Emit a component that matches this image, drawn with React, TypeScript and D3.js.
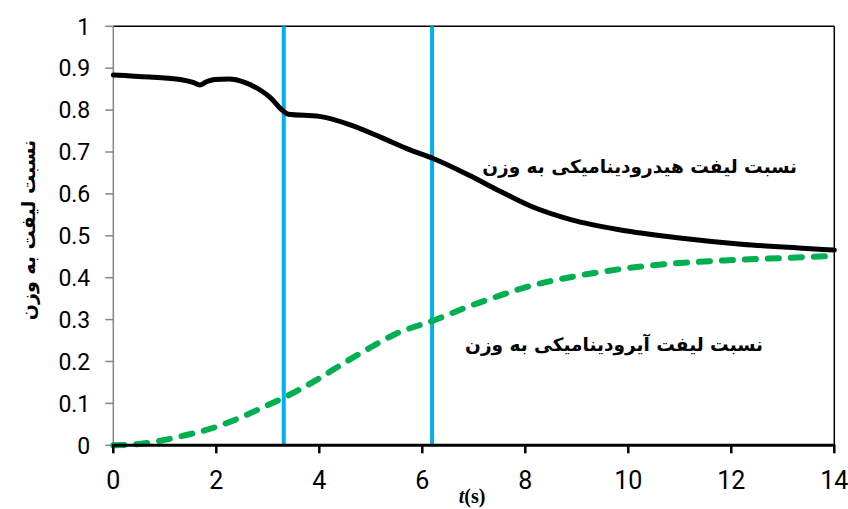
import React from "react";
import * as d3 from "d3";

const xTicks = [0, 2, 4, 6, 8, 10, 12, 14];
const yTicks = [0, 0.1, 0.2, 0.3, 0.4, 0.5, 0.6, 0.7, 0.8, 0.9, 1];
const yTickLabels = ["0", "0.1", "0.2", "0.3", "0.4", "0.5", "0.6", "0.7", "0.8", "0.9", "1"];

const hydroT = [0, 0.7, 1.3, 1.55, 1.68, 1.8, 1.97, 2.25, 2.55, 2.85, 3.05, 3.28, 3.4, 4.0, 4.6, 5.2, 5.76, 6.2, 6.9, 7.5, 8.1, 8.9, 9.85, 11.0, 12.2, 13.3, 14];
const hydroV = [0.884, 0.879, 0.873, 0.866, 0.86, 0.867, 0.873, 0.874, 0.866, 0.848, 0.83, 0.8, 0.79, 0.785, 0.765, 0.735, 0.705, 0.685, 0.645, 0.607, 0.571, 0.538, 0.514, 0.495, 0.48, 0.471, 0.466];

const aeroT = [0, 0.5, 1, 1.5, 2, 2.5, 3, 3.3, 4, 4.5, 5, 5.5, 6.2, 7, 7.5, 8, 9, 10, 11, 12, 13, 14];
const aeroV = [0, 0.003, 0.013, 0.027, 0.044, 0.068, 0.096, 0.113, 0.16, 0.198, 0.234, 0.267, 0.297, 0.336, 0.357, 0.377, 0.404, 0.423, 0.435, 0.442, 0.447, 0.452];

const vLines = [3.31, 6.19];

const hydroLabel = "نسبت لیفت هیدرودینامیکی به وزن";
const aeroLabel = "نسبت لیفت آیرودینامیکی به وزن";
const yLabel = "نسبت لیفت به وزن";

export default function App() {
  const x = d3.scaleLinear().domain([0, 14]).range([113.3, 834.3]);
  const y = d3.scaleLinear().domain([0, 1]).range([445.3, 26.3]);

  const line = d3
    .line<[number, number]>()
    .x((d) => x(d[0]))
    .y((d) => y(d[1]))
    .curve(d3.curveMonotoneX);

  const hydro = line(hydroT.map((t, i) => [t, hydroV[i]]) as [number, number][]) || "";
  const aero = line(aeroT.map((t, i) => [t, aeroV[i]]) as [number, number][]) || "";

  const tickFont = "Roboto, 'DejaVu Sans', sans-serif";
  const arFont = "'DejaVu Sans', 'Noto Sans', sans-serif";

  return (
    <svg
      width={848}
      height={509}
      style={{ position: "absolute", left: 0, top: 0, background: "#fff" }}
    >
      <rect x={0} y={0} width={848} height={509} fill="#fff" />
      {/* top & right border */}
      <line x1={x(0)} x2={x(14)} y1={y(1)} y2={y(1)} stroke="#000" strokeWidth={1.5} />
      <line x1={x(14)} x2={x(14)} y1={y(1)} y2={y(0)} stroke="#000" strokeWidth={1.5} />
      {/* left axis */}
      <line x1={x(0)} x2={x(0)} y1={y(1)} y2={y(0)} stroke="#868686" strokeWidth={1.5} />
      {yTicks.map((v, i) => (
        <g key={"yt" + i}>
          <line x1={x(0) - 8} x2={x(0)} y1={y(v)} y2={y(v)} stroke="#868686" strokeWidth={1.5} />
          <text
            x={x(0) - 23}
            y={y(v)}
            dy="0.36em"
            textAnchor="end"
            fontFamily={tickFont}
            fontSize={23}
            fill="#000"
          >
            {yTickLabels[i]}
          </text>
        </g>
      ))}
      {/* vertical markers */}
      {vLines.map((t, i) => (
        <line key={"vl" + i} x1={x(t)} x2={x(t)} y1={y(1)} y2={y(0)} stroke="#00B0F0" strokeWidth={4} />
      ))}
      {/* curves */}
      <path d={hydro} fill="none" stroke="#000" strokeWidth={5} strokeLinejoin="round" strokeLinecap="round" />
      <path
        d={aero}
        fill="none"
        stroke="#00B050"
        strokeWidth={6}
        strokeDasharray="11 12"
        strokeLinecap="round"
      />
      {/* bottom axis */}
      <line x1={x(0) - 1} x2={x(14) + 1} y1={y(0)} y2={y(0)} stroke="#000" strokeWidth={3} />
      {xTicks.map((v, i) => (
        <g key={"xt" + i}>
          <line x1={x(v)} x2={x(v)} y1={y(0)} y2={y(0) + 8} stroke="#000" strokeWidth={2.5} />
          <text
            x={x(v)}
            y={489}
            textAnchor="middle"
            fontFamily={tickFont}
            fontSize={25}
            fill="#000"
          >
            {v}
          </text>
        </g>
      ))}
      {/* axis titles */}
      <text x={472} y={503} textAnchor="middle" fontFamily="'Liberation Serif', 'DejaVu Serif', serif" fontWeight="bold" fontSize={20}>
        <tspan fontStyle="italic">t</tspan>
        <tspan>(s)</tspan>
      </text>
      <text
        transform={`translate(35, 230) rotate(-90)`}
        textAnchor="middle"
        fontFamily={arFont}
        fontWeight="bold"
        fontSize={19}
        direction="rtl"
      >
        {yLabel}
      </text>
      {/* annotations */}
      <text x={797} y={173} textAnchor="start" direction="rtl" fontFamily={arFont} fontWeight="bold" fontSize={18.5}>
        {hydroLabel}
      </text>
      <text x={763} y={351} textAnchor="start" direction="rtl" fontFamily={arFont} fontWeight="bold" fontSize={18.5}>
        {aeroLabel}
      </text>
    </svg>
  );
}
